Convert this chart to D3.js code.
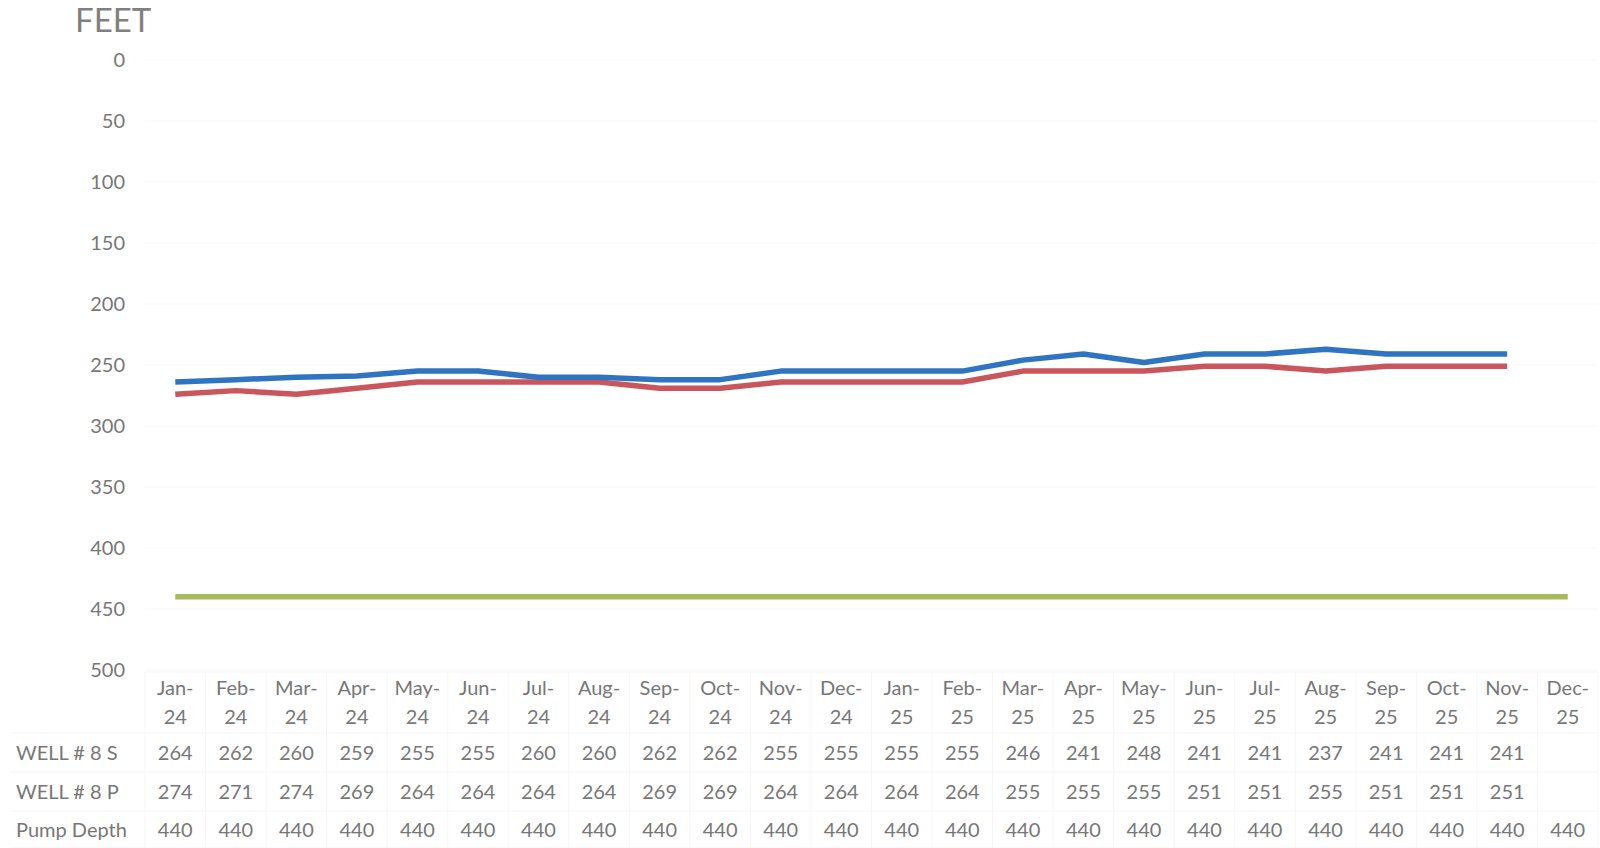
<!DOCTYPE html>
<html>
<head>
<meta charset="utf-8">
<script src="https://cdn.jsdelivr.net/npm/d3@7"></script>
<style>
  body { margin: 0; background: #fff; }
  text { font-family: Lato, "Open Sans", sans-serif; fill: #777; }
</style>
</head>
<body>
<script>
/* DATA */
var months = ["Jan-24","Feb-24","Mar-24","Apr-24","May-24","Jun-24","Jul-24","Aug-24","Sep-24","Oct-24","Nov-24","Dec-24",
              "Jan-25","Feb-25","Mar-25","Apr-25","May-25","Jun-25","Jul-25","Aug-25","Sep-25","Oct-25","Nov-25","Dec-25"];
var well8S = [264,262,260,259,255,255,260,260,262,262,255,255,255,255,246,241,248,241,241,237,241,241,241,null];
var well8P = [274,271,274,269,264,264,264,264,269,269,264,264,264,264,255,255,255,251,251,255,251,251,251,null];
var pumpDepth = [440,440,440,440,440,440,440,440,440,440,440,440,440,440,440,440,440,440,440,440,440,440,440,440];
var yTicks = [0,50,100,150,200,250,300,350,400,450,500];

var series = [
  { name: "WELL # 8 S", values: well8S, color: "#2f74c0" },
  { name: "WELL # 8 P", values: well8P, color: "#c9565c" },
  { name: "Pump Depth", values: pumpDepth, color: "#a6b95c" }
];

/* GLOBALS */
var width = 1600, height = 848;
var plot = { left: 145, right: 1598, top: 60, bottom: 670 };

var svg = d3.select('body').append('svg')
  .attr('width', width)
  .attr('height', height);

// Scales
var x = d3.scaleBand()
  .domain(months)
  .range([plot.left, plot.right]);
var y = d3.scaleLinear()
  .domain([0, 500])
  .range([plot.top, plot.bottom]);

// Gridlines (barely visible, like the scan)
svg.append('g').selectAll('line')
  .data(yTicks)
  .enter().append('line')
  .attr('x1', plot.left).attr('x2', plot.right)
  .attr('y1', function (d) { return y(d); })
  .attr('y2', function (d) { return y(d); })
  .attr('stroke', '#f8f8f8')
  .attr('stroke-width', 1);

// Y axis
var axisY = svg.append('g')
  .attr('transform', 'translate(' + (plot.left - 20) + ',0)')
  .call(d3.axisLeft(y).tickValues(yTicks).tickSize(0).tickPadding(0));
axisY.select('.domain').remove();
axisY.selectAll('text')
  .style('font-family', 'Lato, "Open Sans", sans-serif')
  .style('font-size', '20px')
  .style('fill', '#777');

// Title
svg.append('text')
  .attr('x', 75).attr('y', 32)
  .style('font-size', '33px')
  .style('fill', '#808080')
  .text('FEET');

// Lines
var line = d3.line()
  .defined(function (d) { return d != null; })
  .x(function (d, i) { return x(months[i]) + x.bandwidth() / 2; })
  .y(function (d) { return y(d); });

svg.append('g').selectAll('path')
  .data(series.slice().reverse())
  .enter().append('path')
  .attr('fill', 'none')
  .attr('stroke', function (d) { return d.color; })
  .attr('stroke-width', 5.5)
  .attr('stroke-linejoin', 'round')
  .attr('d', function (d) { return line(d.values); });

// Data table
var rowY = [753, 792, 830];
var table = svg.append('g');

// table grid
var hLines = [672, 733, 772, 811, 848];
table.selectAll('.h')
  .data(hLines)
  .enter().append('line')
  .attr('x1', function (d, i) { return i === 0 ? plot.left : 10; })
  .attr('x2', plot.right)
  .attr('y1', function (d) { return d; })
  .attr('y2', function (d) { return d; })
  .attr('stroke', '#f5f5f5');
table.selectAll('.v')
  .data(months.concat(['end']))
  .enter().append('line')
  .attr('x1', function (d, i) { return plot.left + i * x.bandwidth(); })
  .attr('x2', function (d, i) { return plot.left + i * x.bandwidth(); })
  .attr('y1', 672).attr('y2', 848)
  .attr('stroke', '#f6f6f6');

// category labels
var cat = table.selectAll('.cat')
  .data(months)
  .enter().append('text')
  .attr('text-anchor', 'middle')
  .style('font-size', '20px');
cat.append('tspan')
  .attr('x', function (d) { return x(d) + x.bandwidth() / 2; })
  .attr('y', 695)
  .text(function (d) { return d.split('-')[0] + '-'; });
cat.append('tspan')
  .attr('x', function (d) { return x(d) + x.bandwidth() / 2; })
  .attr('y', 724)
  .text(function (d) { return d.split('-')[1]; });

series.forEach(function (s, r) {
  table.append('text')
    .attr('x', 16)
    .attr('y', rowY[r])
    .attr('dy', '0.35em')
    .style('font-size', '20px')
    .text(s.name);
  table.selectAll('.v' + r)
    .data(s.values)
    .enter().append('text')
    .attr('x', function (d, i) { return x(months[i]) + x.bandwidth() / 2; })
    .attr('y', rowY[r])
    .attr('dy', '0.35em')
    .attr('text-anchor', 'middle')
    .style('font-size', '20px')
    .text(function (d) { return d == null ? '' : d; });
});
</script>
</body>
</html>
